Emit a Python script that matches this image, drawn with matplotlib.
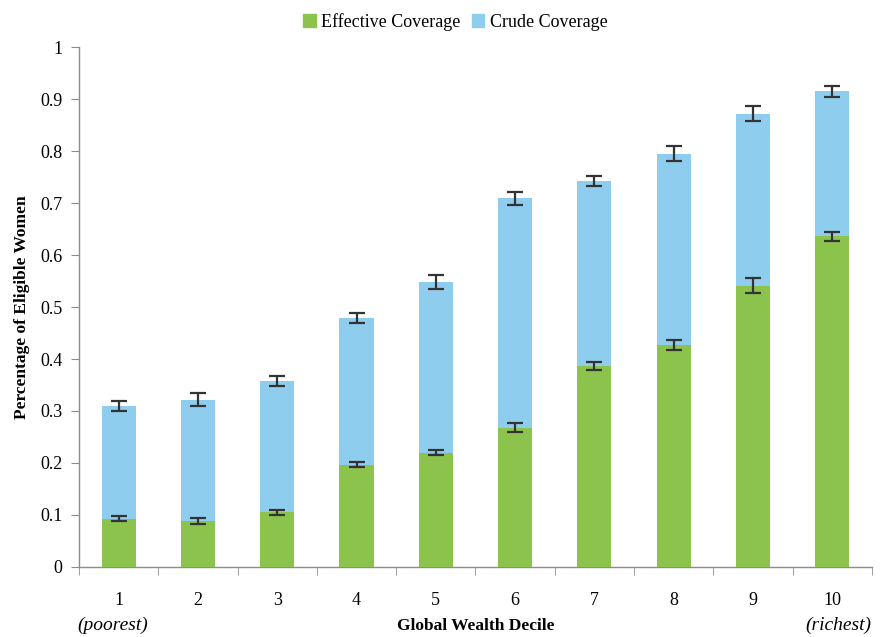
import numpy as np
import matplotlib.pyplot as plt
from matplotlib.patches import Patch

plt.rcParams['font.family'] = ['Liberation Serif', 'DejaVu Serif']

deciles = [1, 2, 3, 4, 5, 6, 7, 8, 9, 10]
effective = [0.093, 0.088, 0.105, 0.197, 0.220, 0.268, 0.387, 0.427, 0.541, 0.636]
effective_err = [0.005, 0.006, 0.005, 0.004, 0.005, 0.008, 0.008, 0.009, 0.014, 0.008]
crude = [0.310, 0.322, 0.358, 0.479, 0.548, 0.709, 0.742, 0.795, 0.872, 0.915]
crude_err = [0.010, 0.012, 0.010, 0.010, 0.013, 0.013, 0.010, 0.015, 0.015, 0.010]

green = '#8bc34c'
blue = '#8ecdee'
grey = '#8c8c8c'

fig = plt.figure(figsize=(8.81, 6.37), dpi=100)
ax = fig.add_axes([0.0897, 0.110, 0.900, 0.816])

x = np.array(deciles)
w = 0.43
# crude bar goes underneath, effective share sits on top of it from zero
ax.bar(x, crude, width=w, color=blue, zorder=2)
ax.bar(x, effective, width=w, color=green, zorder=3)

eb = dict(fmt='none', ecolor='#333333', elinewidth=1.6, capsize=6, capthick=1.6, zorder=4)
ax.errorbar(x, crude, yerr=crude_err, **eb)
ax.errorbar(x, effective, yerr=effective_err, **eb)

ax.set_xlim(0.5, 10.5)
ax.set_ylim(0, 1)
ax.set_yticks(np.arange(0, 1.01, 0.1))
ax.set_yticklabels(['0'] + ['%.1f' % v for v in np.arange(0.1, 0.95, 0.1)] + ['1'])
ax.set_xticks(x)
ax.set_xticks(np.arange(0.5, 10.6, 1), minor=True)
ax.tick_params(axis='x', which='major', length=0, pad=18, labelsize=13)
ax.tick_params(axis='x', which='minor', length=6, color=grey, direction='out')
ax.tick_params(axis='y', length=6, color=grey, labelsize=13, pad=6)

for side in ['top', 'right']:
    ax.spines[side].set_visible(False)
for side in ['left', 'bottom']:
    ax.spines[side].set_color(grey)
    ax.spines[side].set_linewidth(1.0)

ax.set_ylabel('Percentage of Eligible Women', fontsize=12.5, fontweight='bold', labelpad=7)
ax.text(5.5, -0.113, 'Global Wealth Decile', ha='center', va='center',
        fontsize=12.5, fontweight='bold')
ax.text(0.92, -0.113, '(poorest)', ha='center', va='center', fontsize=14, style='italic')
ax.text(10.08, -0.113, '(richest)', ha='center', va='center', fontsize=14, style='italic')

handles = [Patch(color=green, label='Effective Coverage'),
           Patch(color=blue, label='Crude Coverage')]
fig.legend(handles=handles, loc='upper center', bbox_to_anchor=(0.517, 1.0), ncol=2,
           frameon=False, fontsize=13, handlelength=0.7, handleheight=0.7,
           handletextpad=0.3, columnspacing=0.6, borderaxespad=0.3)

fig.savefig('out.png', dpi=100, facecolor='white')
